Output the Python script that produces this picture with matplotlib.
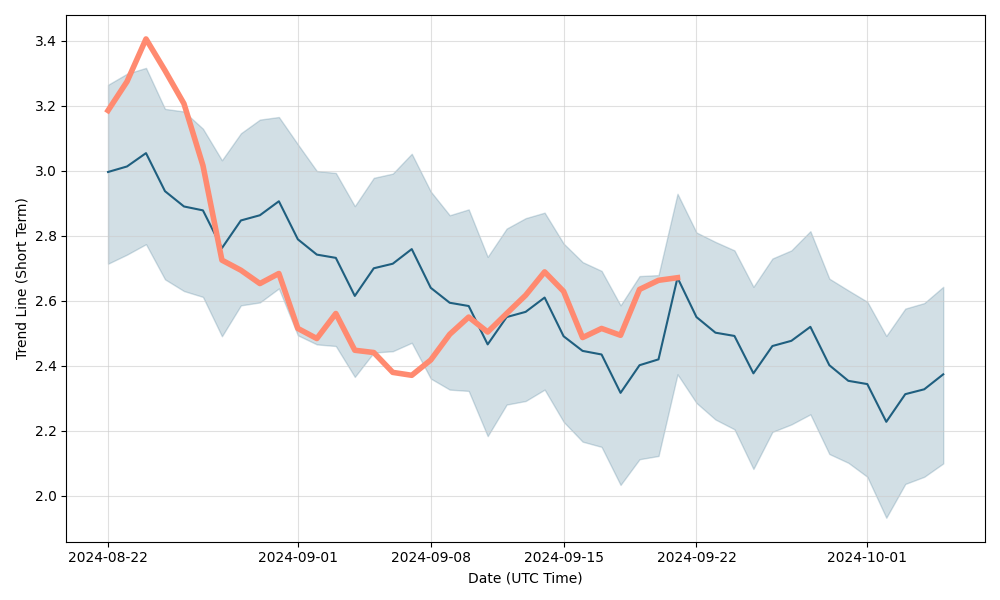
import matplotlib
matplotlib.use("Agg")
import matplotlib.pyplot as plt
import pandas as pd

# daily trend line (short term) with band, plus recent actual values
dates = pd.date_range("2024-08-22", periods=45, freq="D")

trend = [2.996, 3.013, 3.054, 2.937, 2.890, 2.878, 2.762, 2.847, 2.863, 2.906,
         2.789, 2.742, 2.732, 2.615, 2.700, 2.714, 2.759, 2.640, 2.594, 2.584,
         2.466, 2.550, 2.566, 2.610, 2.491, 2.446, 2.435, 2.317, 2.402, 2.420,
         2.671, 2.550, 2.502, 2.492, 2.377, 2.461, 2.477, 2.520, 2.402, 2.354,
         2.344, 2.228, 2.313, 2.328, 2.374]

upper = [3.264, 3.298, 3.316, 3.190, 3.182, 3.129, 3.032, 3.115, 3.157, 3.165,
         3.081, 2.999, 2.993, 2.891, 2.978, 2.991, 3.052, 2.936, 2.863, 2.881,
         2.735, 2.822, 2.854, 2.871, 2.776, 2.719, 2.692, 2.586, 2.676, 2.679,
         2.929, 2.810, 2.781, 2.755, 2.643, 2.730, 2.755, 2.814, 2.668, 2.632,
         2.597, 2.492, 2.576, 2.593, 2.643]

lower = [2.714, 2.742, 2.774, 2.666, 2.630, 2.612, 2.491, 2.586, 2.595, 2.638,
         2.494, 2.466, 2.461, 2.366, 2.441, 2.445, 2.471, 2.361, 2.327, 2.323,
         2.184, 2.281, 2.292, 2.327, 2.228, 2.167, 2.151, 2.034, 2.113, 2.123,
         2.374, 2.286, 2.235, 2.205, 2.083, 2.197, 2.220, 2.251, 2.129, 2.102,
         2.059, 1.933, 2.037, 2.059, 2.100]

actual = [3.185, 3.274, 3.405, 3.308, 3.206, 3.016, 2.725, 2.694, 2.653, 2.684,
          2.515, 2.484, 2.561, 2.448, 2.441, 2.380, 2.371, 2.418, 2.497, 2.550,
          2.504, 2.561, 2.617, 2.689, 2.629, 2.487, 2.515, 2.494, 2.635, 2.663,
          2.671]

fig, ax = plt.subplots(figsize=(10, 6), dpi=100)
ax.fill_between(dates, lower, upper, color="#1f5f7f", alpha=0.2, linewidth=1)
ax.plot(dates, trend, color="#1f5f7f", linewidth=1.5)
ax.plot(dates[:len(actual)], actual, color="#ff8a70", linewidth=4)
ax.grid(True, color="#cccccc", alpha=0.6)
ax.set_xlabel("Date (UTC Time)")
ax.set_ylabel("Trend Line (Short Term)")
plt.tight_layout()
plt.savefig("out.png")
